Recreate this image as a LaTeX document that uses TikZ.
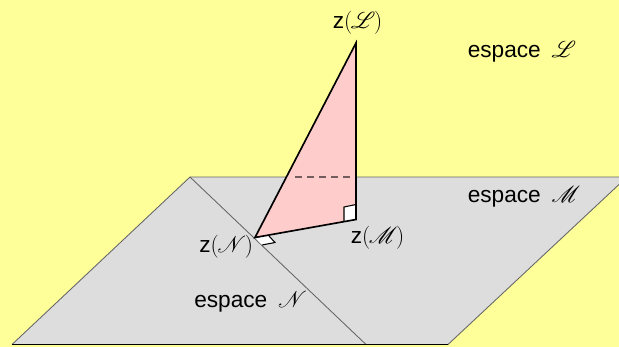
\documentclass[tikz,border=0pt]{standalone}
\usepackage{fontspec}
\usepackage{mathrsfs}
\setmainfont{Liberation Sans}
\definecolor{bgy}{RGB}{255,255,153}
\definecolor{planeg}{RGB}{221,221,221}
\definecolor{tripink}{RGB}{255,204,204}
\newcommand{\scrl}[1]{{\fontsize{17.5}{18}\selectfont$\mathscr{#1}$}}
\tikzset{
  lab/.style={font=\fontsize{17}{18}\selectfont,inner sep=0pt,anchor=base west,text=black},
  edge/.style={draw=black,line width=1.25pt,line join=miter},
  thin edge/.style={draw=black!60,line width=.65pt}
}
\begin{document}
\begin{tikzpicture}[x=0.75pt,y=-0.75pt]
\useasboundingbox (0,0) rectangle (619,347);
\fill[bgy] (0,0) rectangle (619,347);
\coordinate (pa) at (190,177);
\coordinate (pb) at (627,177);
\coordinate (pc) at (448,344.5);
\coordinate (pd) at (12,344.5);
\coordinate (pe) at (366,344.5);
\coordinate (L) at (356,43);
\coordinate (M) at (356,219.5);
\coordinate (N) at (255,237.5);
\fill[planeg] (pa) -- (pb) -- (pc) -- (pd) -- cycle;
\draw[thin edge] (pd) -- (pa) -- (pb);
\draw[thin edge] (pb) -- (pc);
\draw[thin edge] (pa) -- (pe);
\draw[black,line width=.8pt] (pd) -- (pc);
\fill[tripink] (N) -- (L) -- (M) -- cycle;
\draw[black!55!tripink,line width=.8pt,dash pattern=on 5.25pt off 3.75pt] (295,177) -- (356,177);
\fill[white] (344,207) -- (356,204.5) -- (356,219.5) -- (344,221.5) -- cycle;
\draw[black,line width=.8pt] (344,221.5) -- (344,207) -- (356,204.5);
\fill[white] (255,237.5) -- (269,236) -- (275,242.5) -- (262,245) -- cycle;
\draw[black,line width=.8pt] (269,236) -- (275,242.5) -- (262,245);
\draw[edge] (N) -- (L) -- (M) -- cycle;
\node[lab] (tL) at (332.5,28.5) {z$($\kern-1pt\scrl{L}\kern-1pt$)$};
\node[lab] (tM) at (350.5,243) {z$($\kern-1pt\scrl{M}\kern-1pt$)$};
\node[lab] (tN) at (199,252.5) {z$($\kern-1pt\scrl{N}\kern-1pt$)$};
\node[lab] (eL) at (467.5,57) {espace\hspace{8pt}\scrl{L}};
\node[lab] (eM) at (467.5,202) {espace\hspace{8pt}\scrl{M}};
\node[lab] (eN) at (194,307) {espace\hspace{8pt}\scrl{N}};
\end{tikzpicture}
\end{document}
